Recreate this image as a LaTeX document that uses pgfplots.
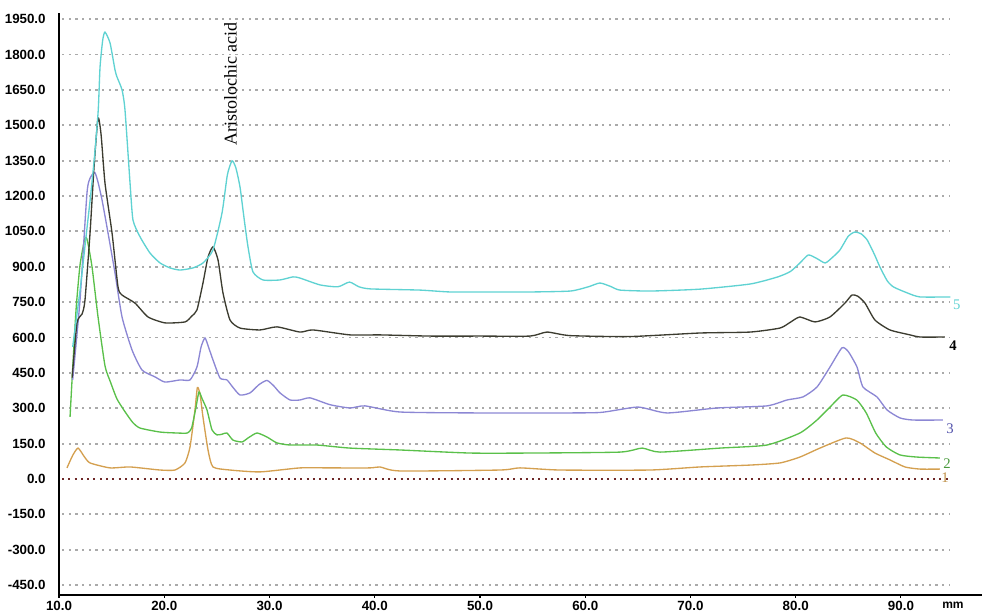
\documentclass[border=0pt]{standalone}
\usepackage{fontspec}
\setmainfont{Liberation Sans}
\newfontfamily\seriffont{Liberation Serif}
\usepackage{pgfplots}
\pgfplotsset{compat=1.18}
\definecolor{cCyan}{RGB}{95,210,210}
\definecolor{cBlack}{RGB}{60,60,48}
\definecolor{cPurple}{RGB}{140,135,212}
\definecolor{cPurpleLbl}{RGB}{80,80,170}
\definecolor{cGreen}{RGB}{90,192,74}
\definecolor{cOrange}{RGB}{212,160,80}
\definecolor{cZero}{RGB}{110,40,40}
\definecolor{cGrid}{RGB}{170,170,170}
\tikzset{gridl/.style={cGrid, line width=1.4pt, dash pattern=on 1.6pt off 3.4pt}}
\begin{document}
\begin{tikzpicture}
\begin{axis}[
  scale only axis, width=692.25pt, height=436.5pt,
  xmin=10, xmax=97.7, ymin=-492, ymax=1976,
  axis x line=bottom, axis y line=left,
  axis line style={-, line width=1.2pt, black},
  xtick={10,20,30,40,50,60,70,80,90},
  xticklabels={10.0,20.0,30.0,40.0,50.0,60.0,70.0,80.0,90.0},
  ytick={-450,-300,-150,0,150,300,450,600,750,900,1050,1200,1350,1500,1650,1800,1950},
  yticklabels={-450.0,-300.0,-150.0,0.0,150.0,300.0,450.0,600.0,750.0,900.0,1050.0,1200.0,1350.0,1500.0,1650.0,1800.0,1950.0},
  x tick style={black, line width=0.8pt}, y tick style={draw=none}, tick align=outside,
  major tick length=2pt,
  tick label style={font=\fontsize{10}{12}\selectfont\bfseries},
  yticklabel style={xshift=-4.5pt},
  xticklabel style={yshift=1pt},
  clip=false,
  every axis plot/.append style={line width=1pt, smooth, tension=0.35},
]
\coordinate (bl) at (rel axis cs:-0.06392,-0.03093);
\coordinate (tr) at (rel axis cs:1,1.02234);
% grid
\draw[gridl] (axis cs:10.3,-450) -- (axis cs:94.7,-450);
\draw[gridl] (axis cs:10.3,-300) -- (axis cs:94.7,-300);
\draw[gridl] (axis cs:10.3,-150) -- (axis cs:94.7,-150);
\draw[gridl] (axis cs:10.3,150) -- (axis cs:94.7,150);
\draw[gridl] (axis cs:10.3,300) -- (axis cs:94.7,300);
\draw[gridl] (axis cs:10.3,450) -- (axis cs:94.7,450);
\draw[gridl] (axis cs:10.3,600) -- (axis cs:94.7,600);
\draw[gridl] (axis cs:10.3,750) -- (axis cs:94.7,750);
\draw[gridl] (axis cs:10.3,900) -- (axis cs:94.7,900);
\draw[gridl] (axis cs:10.3,1050) -- (axis cs:94.7,1050);
\draw[gridl] (axis cs:10.3,1200) -- (axis cs:94.7,1200);
\draw[gridl] (axis cs:10.3,1350) -- (axis cs:94.7,1350);
\draw[gridl] (axis cs:10.3,1500) -- (axis cs:94.7,1500);
\draw[gridl] (axis cs:10.3,1650) -- (axis cs:94.7,1650);
\draw[gridl] (axis cs:10.3,1800) -- (axis cs:94.7,1800);
\draw[gridl] (axis cs:10.3,1950) -- (axis cs:94.7,1950);
\draw[cZero, line width=1.5pt, dash pattern=on 1.5pt off 3.2pt] (axis cs:10.3,0) -- (axis cs:94.7,0);

% series 1 (orange)
\addplot[cOrange] coordinates {(10.76,47) (11.3,100) (11.81,131) (12.4,95) (12.95,68) (14.85,47) (16.75,51) (19.6,38) (21.02,38) (21.97,68) (22.45,136) (22.92,293) (23.15,388) (23.4,360) (23.68,263) (24.16,123) (24.63,51) (26.25,38) (29.1,30) (32.9,47) (35.75,47) (39.55,47) (40.5,51) (42.4,34) (51.9,38) (53.8,47) (57.6,38) (66.15,38) (70.9,51) (75.65,59) (78.5,68) (80.4,93) (82.3,131) (84.78,174) (86.1,153) (87.53,110) (88.95,81) (90.38,51) (91.8,42) (93.7,42)};
% series 2 (green)
\addplot[cGreen] coordinates {(11.05,263) (11.24,420) (11.62,717) (12.0,908) (12.47,1022) (12.7,1010) (13.14,899) (13.71,687) (14.37,480) (14.9,410) (15.5,340) (16.2,290) (17.0,240) (17.7,216) (19.6,199) (21.2,195) (22.2,195) (22.6,216) (23.0,300) (23.3,369) (23.6,340) (24.06,293) (24.54,208) (25.01,187) (25.5,190) (25.96,195) (26.53,165) (27.39,157) (28.0,175) (28.81,195) (29.76,178) (30.71,153) (31.95,144) (34.5,144) (37.65,131) (42.4,123) (49.05,110) (54.75,110) (63.3,114) (65.4,131) (67.1,114) (72.8,131) (77.27,144) (80.4,195) (82.02,250) (83.26,305) (84.48,356) (85.8,335) (86.7,280) (87.6,195) (88.6,136) (89.9,102) (91.5,93) (93.7,89)};
% series 3 (purple)
\addplot[cPurple] coordinates {(11.3,420) (12.0,760) (12.66,1213) (13.0,1280) (13.4,1300) (13.7,1260) (14.09,1183) (14.66,1043) (15.32,874) (15.99,687) (16.94,547) (17.89,462) (19.12,433) (20.07,411) (21.5,420) (22.45,420) (23.11,475) (23.5,560) (23.87,598) (24.2,560) (24.63,505) (25.3,428) (25.96,420) (26.5,390) (27.2,356) (28.15,365) (29.0,400) (29.76,418) (30.4,395) (31.0,365) (31.95,335) (32.9,335) (33.85,344) (35.75,315) (37.65,301) (39.07,310) (42.4,284) (50.0,280) (56.18,280) (61.4,282) (65.0,305) (67.77,280) (72.52,301) (77.27,310) (79.17,335) (80.69,348) (82.02,390) (83.26,475) (84.39,556) (85.0,540) (85.82,475) (86.39,390) (87.72,348) (88.67,293) (89.9,259) (91.14,250) (93.99,250)};
% series 4 (black)
\addplot[cBlack] coordinates {(11.25,430) (11.71,662) (12.2,700) (12.47,759) (12.95,1043) (13.33,1323) (13.71,1531) (14.0,1460) (14.37,1255) (15.04,1043) (15.61,814) (15.99,780) (17.22,746) (18.46,687) (20.07,662) (21.97,666) (22.6,690) (23.11,717) (23.68,831) (24.16,941) (24.63,984) (25.11,929) (25.58,789) (26.25,674) (27.2,640) (29.1,632) (30.71,645) (32.9,623) (34.13,632) (37.65,611) (40.5,611) (45.25,606) (50.0,606) (54.75,606) (56.37,623) (58.55,608) (64.25,604) (70.9,619) (75.65,623) (78.5,640) (79.5,665) (80.4,687) (81.83,666) (83.25,687) (84.68,746) (85.34,780) (85.9,775) (86.58,746) (87.53,674) (88.95,632) (90.86,611) (91.8,602) (94.18,602)};
% series 5 (cyan)
\addplot[cCyan] coordinates {(11.3,560) (12.0,800) (12.5,1000) (13.0,1200) (13.4,1380) (13.73,1565) (13.9,1747) (14.15,1860) (14.37,1895) (14.85,1849) (15.32,1735) (15.51,1705) (15.99,1650) (16.27,1565) (16.75,1255) (17.03,1098) (17.7,1027) (18.65,958) (19.6,916) (20.55,895) (21.5,886) (22.73,895) (23.68,916) (24.63,971) (25.49,1128) (26.0,1290) (26.44,1349) (26.8,1320) (27.2,1238) (27.6,1100) (27.96,984) (28.43,878) (29.38,844) (31.0,844) (32.23,857) (32.9,852) (34.8,823) (36.5,815) (37.6,835) (38.5,815) (39.6,806) (44.3,801) (47.2,793) (51.9,793) (54.8,793) (58.6,797) (60.3,815) (61.4,831) (62.5,815) (63.3,801) (66.2,797) (70.9,805) (75.7,827) (78.3,857) (79.5,880) (80.4,916) (81.2,950) (82.0,935) (82.8,916) (83.5,940) (84.2,971) (85.0,1030) (85.6,1047) (86.2,1040) (86.8,1013) (87.5,950) (88.0,899) (88.7,840) (89.3,814) (90.6,789) (91.8,772) (94.7,772)};

% annotations
\node[rotate=90, font=\seriffont\fontsize{13.5}{15}\selectfont, inner sep=0pt] at (axis cs:26.3,1675) {Aristolochic acid};
\node[font=\seriffont\fontsize{11}{12}\selectfont, text=cCyan, inner sep=0pt] at (axis cs:95.3,738) {5};
\node[font=\seriffont\bfseries\fontsize{11}{12}\selectfont, text=black, inner sep=0pt] at (axis cs:94.94,564) {4};
\node[font=\seriffont\fontsize{11}{12}\selectfont, text=cPurpleLbl, inner sep=0pt] at (axis cs:94.66,212) {3};
\node[font=\seriffont\fontsize{11}{12}\selectfont, text=cGreen!80!black, inner sep=0pt] at (axis cs:94.37,64) {2};
\node[font=\seriffont\fontsize{11}{12}\selectfont, text=cOrange!90!black, inner sep=0pt] at (axis cs:94.18,4) {1};
\node[font=\fontsize{9}{10}\selectfont\bfseries, inner sep=0pt] at (axis cs:94.94,-534) {mm};
\end{axis}
\pgfresetboundingbox
\path[use as bounding box] (bl) rectangle (tr);
\end{tikzpicture}
\end{document}
